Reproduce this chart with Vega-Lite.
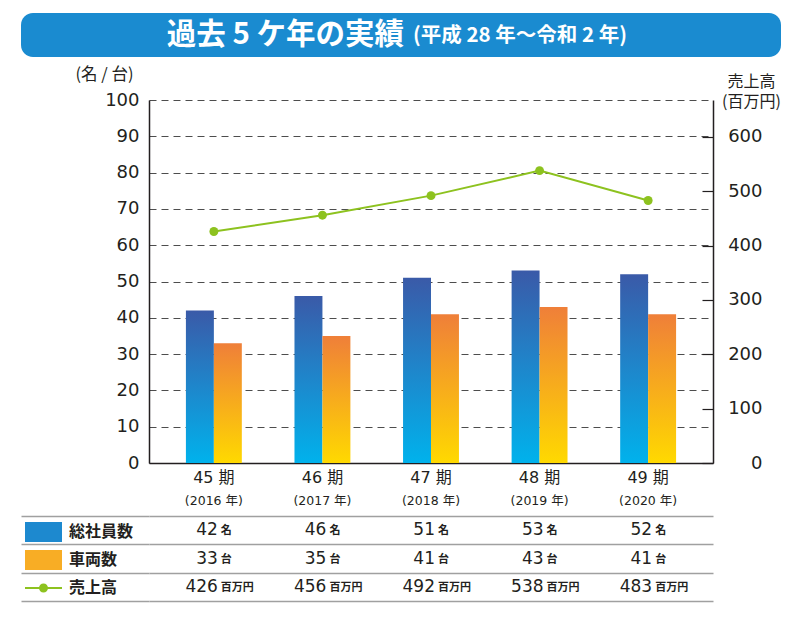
{
  "$schema": "https://vega.github.io/schema/vega-lite/v6.json",
  "padding": {"left": 20, "top": 13, "right": 10, "bottom": 10},
  "background": "#ffffff",
  "datasets": {
    "banner": [{"main": "過去 5 ケ年の実績", "sub": "(平成 28 年〜令和 2 年)"}],
    "perf": [
      {"period": "45 期|(2016 年)", "series": "総社員数", "value": 42, "unit": "名"},
      {"period": "46 期|(2017 年)", "series": "総社員数", "value": 46, "unit": "名"},
      {"period": "47 期|(2018 年)", "series": "総社員数", "value": 51, "unit": "名"},
      {"period": "48 期|(2019 年)", "series": "総社員数", "value": 53, "unit": "名"},
      {"period": "49 期|(2020 年)", "series": "総社員数", "value": 52, "unit": "名"},
      {"period": "45 期|(2016 年)", "series": "車両数", "value": 33, "unit": "台"},
      {"period": "46 期|(2017 年)", "series": "車両数", "value": 35, "unit": "台"},
      {"period": "47 期|(2018 年)", "series": "車両数", "value": 41, "unit": "台"},
      {"period": "48 期|(2019 年)", "series": "車両数", "value": 43, "unit": "台"},
      {"period": "49 期|(2020 年)", "series": "車両数", "value": 41, "unit": "台"},
      {"period": "45 期|(2016 年)", "series": "売上高", "value": 426, "unit": "百万円"},
      {"period": "46 期|(2017 年)", "series": "売上高", "value": 456, "unit": "百万円"},
      {"period": "47 期|(2018 年)", "series": "売上高", "value": 492, "unit": "百万円"},
      {"period": "48 期|(2019 年)", "series": "売上高", "value": 538, "unit": "百万円"},
      {"period": "49 期|(2020 年)", "series": "売上高", "value": 483, "unit": "百万円"}
    ]
  },
  "config": {
    "view": {"stroke": null},
    "font": "Noto Sans CJK JP",
    "axis": {"labelColor": "#231f20", "titleColor": "#231f20", "domainColor": "#231f20"}
  },
  "spacing": 9,
  "vconcat": [
    {
      "width": 564,
      "height": 44,
      "data": {"name": "banner"},
      "encoding": {
        "x": {"field": "main", "type": "nominal", "scale": {"type": "band", "range": [-128, 632], "paddingInner": 0, "paddingOuter": 0}, "axis": null}
      },
      "layer": [
        {
          "mark": {"type": "bar", "color": "#1a8bd0", "cornerRadius": 12}
        },
        {
          "mark": {"type": "text", "align": "right", "baseline": "middle", "dx": 3, "fontSize": 29.5, "fontWeight": "bold", "color": "#ffffff", "font": "Noto Sans CJK JP"},
          "encoding": {"text": {"field": "main", "type": "nominal"}}
        },
        {
          "mark": {"type": "text", "align": "left", "baseline": "middle", "dx": 12, "dy": 1, "fontSize": 20.5, "fontWeight": "bold", "color": "#ffffff", "font": "Noto Sans CJK JP"},
          "encoding": {"text": {"field": "sub", "type": "nominal"}}
        }
      ]
    },
    {
      "spacing": 8,
      "resolve": {"scale": {"x": "independent", "y": "independent", "color": "independent", "shape": "independent"}},
      "vconcat": [
        {
          "width": 564,
          "height": 363,
          "data": {"name": "perf"},
          "layer": [
            {
              "encoding": {
                "x": {
                  "field": "period", "type": "nominal", "sort": null,
                  "scale": {"type": "band", "paddingInner": 0.485, "paddingOuter": 0.34},
                  "axis": {"title": null, "labelExpr": "split(datum.value, '|')[0]", "labelAngle": 0, "ticks": false, "labelPadding": 6, "labelFontSize": 16, "labelFont": "DejaVu Sans, Noto Sans CJK JP", "domainWidth": 1.5, "grid": false}
                },
                "xOffset": {"field": "series", "type": "nominal", "scale": {"domain": ["総社員数", "車両数"]}},
                "y": {
                  "field": "value", "type": "quantitative",
                  "scale": {"domain": [0, 100], "nice": false},
                  "axis": {
                    "title": "(名 / 台)", "titleAngle": 0, "titleAlign": "center", "titleBaseline": "top", "titleX": -45, "titleY": -34, "titleFontSize": 16.5, "titleFontWeight": "normal",
                    "values": [0, 10, 20, 30, 40, 50, 60, 70, 80, 90, 100], "labelOverlap": false,
                    "grid": true, "gridDash": [7, 5], "gridColor": "#4d4d4d", "gridWidth": 1,
                    "ticks": false, "labelPadding": 10, "labelFontSize": 18, "labelFont": "DejaVu Sans", "domainWidth": 1.5
                  }
                }
              },
              "layer": [
                {
                  "transform": [{"filter": "datum.series === '総社員数'"}],
                  "mark": {"type": "bar", "color": {"gradient": "linear", "x1": 0, "y1": 0, "x2": 0, "y2": 1, "stops": [{"offset": 0, "color": "#3a5aa8"}, {"offset": 0.45, "color": "#2182c8"}, {"offset": 1, "color": "#00b2ec"}]}}
                },
                {
                  "transform": [{"filter": "datum.series === '車両数'"}],
                  "mark": {"type": "bar", "color": {"gradient": "linear", "x1": 0, "y1": 0, "x2": 0, "y2": 1, "stops": [{"offset": 0, "color": "#ef7f39"}, {"offset": 1, "color": "#ffd900"}]}}
                }
              ]
            },
            {
              "transform": [{"filter": "datum.series === '売上高'"}],
              "mark": {"type": "line", "color": "#8dc21f", "strokeWidth": 2, "point": {"filled": true, "size": 80, "color": "#8dc21f"}},
              "encoding": {
                "x": {
                  "field": "period", "type": "nominal", "sort": null,
                  "scale": {"type": "band", "paddingInner": 0.485, "paddingOuter": 0.34},
                  "axis": {"orient": "bottom", "title": null, "labelExpr": "split(datum.value, '|')[1]", "labelAngle": 0, "domain": false, "ticks": false, "labelPadding": 31, "labelFontSize": 12.5, "labelFont": "DejaVu Sans, Noto Sans CJK JP", "grid": false}
                },
                "y": {
                  "field": "value", "type": "quantitative",
                  "scale": {"domain": [0, 668], "nice": false},
                  "axis": {
                    "orient": "right", "title": ["売上高", "(百万円)"], "titleAngle": 0, "titleAlign": "center", "titleBaseline": "top", "titleX": 38, "titleY": -27, "titleFontSize": 16, "titleFontWeight": "normal", "titleLineHeight": 20,
                    "values": [0, 100, 200, 300, 400, 500, 600], "labelOverlap": false,
                    "grid": false, "tickSize": -11, "tickColor": "#231f20", "tickWidth": 1.2,
                    "labelAlign": "right", "labelPadding": 60, "labelFontSize": 18, "labelFont": "DejaVu Sans", "domainWidth": 1.5
                  }
                }
              }
            }
          ],
          "resolve": {"scale": {"x": "independent", "y": "independent"}, "axis": {"x": "independent", "y": "independent"}}
        },
        {
          "width": 564,
          "height": 85,
          "data": {"name": "perf"},
          "encoding": {
            "x": {"field": "period", "type": "nominal", "sort": null, "scale": {"type": "band", "paddingInner": 0.485, "paddingOuter": 0.34}, "axis": null},
            "y": {
              "field": "series", "type": "nominal", "sort": ["総社員数", "車両数", "売上高"],
              "scale": {"type": "band", "paddingInner": 0, "paddingOuter": 0},
              "axis": {"title": null, "labels": false, "domain": false, "ticks": true, "tickBand": "extent", "tickSize": 128, "tickColor": "#a0a0a0", "tickWidth": 1.5, "grid": true, "gridColor": "#a0a0a0", "gridWidth": 1.5}
            }
          },
          "layer": [
            {
              "mark": {"type": "text", "align": "right", "baseline": "middle", "dx": 4, "fontSize": 17, "font": "DejaVu Sans", "color": "#231f20"},
              "encoding": {"text": {"field": "value", "type": "quantitative"}}
            },
            {
              "mark": {"type": "text", "align": "left", "baseline": "middle", "dx": 7, "dy": 1, "fontSize": 11, "fontWeight": "bold", "font": "Noto Sans CJK JP", "color": "#231f20"},
              "encoding": {"text": {"field": "unit", "type": "nominal"}}
            },
            {
              "mark": {"type": "point", "opacity": 0, "filled": true},
              "encoding": {
                "color": {
                  "field": "series", "type": "nominal",
                  "scale": {"domain": ["総社員数", "車両数", "売上高"], "range": ["#1d89cf", "#f8ad25", "#8dc21f"]},
                  "legend": {"orient": "none", "legendX": -115.5, "legendY": 6, "title": null, "symbolSize": 400, "symbolOpacity": 1, "symbolStrokeWidth": 0, "labelOffset": 15.5, "rowPadding": 8, "padding": 0, "labelFontSize": 16, "labelFontWeight": "bold", "labelColor": "#231f20", "labelFont": "Noto Sans CJK JP", "labelLimit": 0}
                },
                "shape": {
                  "field": "series", "type": "nominal",
                  "scale": {
                    "domain": ["総社員数", "車両数", "売上高"],
                    "range": ["M-1.85,-1H1.85V1H-1.85Z", "M-1.85,-1H1.85V1H-1.85Z", "M-1.85,-0.1H1.85V0.1H-1.85Z M0.45,0A0.45,0.45,0,1,1,-0.45,0A0.45,0.45,0,1,1,0.45,0Z"]
                  },
                  "legend": {"orient": "none", "legendX": -115.5, "legendY": 6, "title": null, "symbolSize": 400, "symbolOpacity": 1, "symbolStrokeWidth": 0, "labelOffset": 15.5, "rowPadding": 8, "padding": 0, "labelFontSize": 16, "labelFontWeight": "bold", "labelColor": "#231f20", "labelFont": "Noto Sans CJK JP", "labelLimit": 0}
                }
              }
            }
          ]
        }
      ]
    }
  ]
}
